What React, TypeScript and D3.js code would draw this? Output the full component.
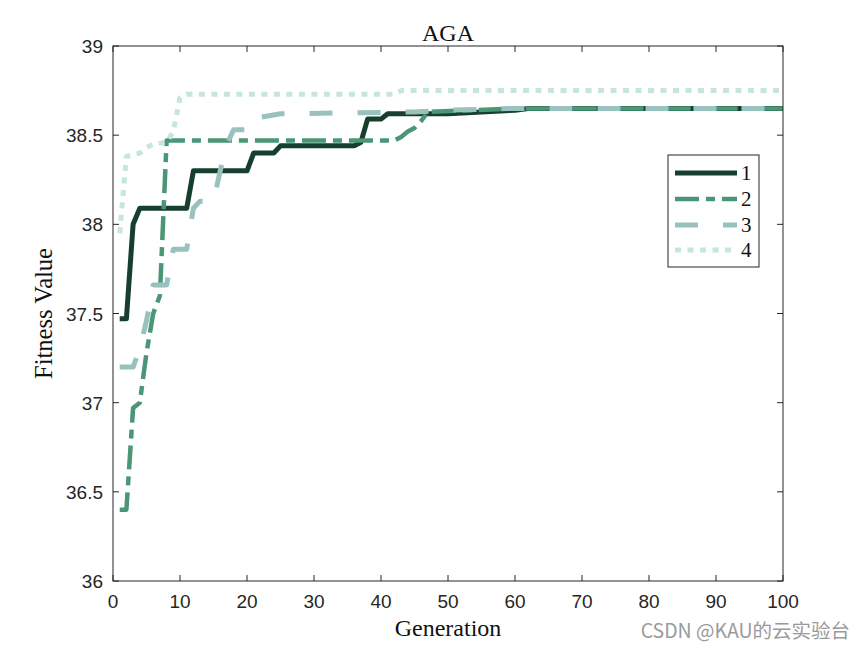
import React from "react";
import * as d3 from "d3";

const W = 865, H = 649;
const M = { left: 113, right: 783, top: 46, bottom: 581 };

const xTicks = [0, 10, 20, 30, 40, 50, 60, 70, 80, 90, 100];
const yTicks = [36, 36.5, 37, 37.5, 38, 38.5, 39];
const yTickLabels = ["36", "36.5", "37", "37.5", "38", "38.5", "39"];

const seriesNames = ["1", "2", "3", "4"];

const gen1 = [1, 2, 3, 4, 11, 12, 20, 21, 24, 25, 36, 37, 38, 40, 41, 50, 55, 60, 62, 100];
const val1 = [37.47, 37.47, 38.0, 38.09, 38.09, 38.3, 38.3, 38.4, 38.4, 38.44, 38.44, 38.46, 38.59, 38.59, 38.62, 38.62, 38.63, 38.64, 38.65, 38.65];

const gen2 = [1, 2, 3, 4, 5, 6, 7, 8, 42, 43, 44, 45, 46, 47, 60, 100];
const val2 = [36.4, 36.4, 36.97, 37.0, 37.28, 37.5, 37.6, 38.47, 38.47, 38.49, 38.52, 38.54, 38.58, 38.63, 38.65, 38.65];

const gen3 = [1, 3, 4, 5, 6, 8, 9, 11, 12, 13, 15, 16, 17, 18, 21, 22, 25, 45, 50, 60, 100];
const val3 = [37.2, 37.2, 37.3, 37.46, 37.66, 37.66, 37.86, 37.86, 38.09, 38.13, 38.13, 38.3, 38.45, 38.53, 38.53, 38.6, 38.62, 38.63, 38.64, 38.65, 38.65];

const gen4 = [1, 2, 4, 5, 6, 8, 9, 10, 11, 42, 43, 100];
const val4 = [37.95, 38.38, 38.4, 38.43, 38.45, 38.46, 38.52, 38.71, 38.73, 38.73, 38.75, 38.75];

const gens = [gen1, gen2, gen3, gen4];
const vals = [val1, val2, val3, val4];

const colors = ["#173f2e", "#4a9677", "#99c2bf", "#c6e6db"];
const dashes = ["", "24,7,9,7", "23,25", "6,6.5"];
const widths = [5, 4.5, 5, 5];

export default function App() {
  const x = d3.scaleLinear().domain([0, 100]).range([M.left, M.right]);
  const y = d3.scaleLinear().domain([36, 39]).range([M.bottom, M.top]);
  const line = d3
    .line<[number, number]>()
    .x((d) => x(d[0]))
    .y((d) => y(d[1]))
    .curve(d3.curveLinear);

  const axisColor = "#262626";
  const tickLen = 6;
  const sans = "'Liberation Sans', Arial, sans-serif";
  const serif = "'Liberation Serif', 'Times New Roman', serif";

  const legX = 668, legY = 155, legW = 91, legH = 112;
  const rowY = [173, 199, 225, 250];

  return (
    <svg
      width={W}
      height={H}
      style={{ position: "absolute", left: 0, top: 0, background: "#fff" }}
    >
      <rect x={0} y={0} width={W} height={H} fill="#fff" />
      {gens.map((g, i) => (
        <path
          key={i}
          d={line(g.map((gv, j) => [gv, vals[i][j]] as [number, number])) || ""}
          fill="none"
          stroke={colors[i]}
          strokeWidth={widths[i]}
          strokeDasharray={dashes[i] || undefined}
          strokeLinejoin="round"
        />
      ))}
      <rect
        x={M.left}
        y={M.top}
        width={M.right - M.left}
        height={M.bottom - M.top}
        fill="none"
        stroke={axisColor}
        strokeWidth={1}
      />
      {xTicks.map((t) => (
        <g key={"x" + t}>
          <line x1={x(t)} x2={x(t)} y1={M.bottom} y2={M.bottom - tickLen} stroke={axisColor} />
          <line x1={x(t)} x2={x(t)} y1={M.top} y2={M.top + tickLen} stroke={axisColor} />
          <text
            x={x(t)}
            y={M.bottom + 27}
            textAnchor="middle"
            fontFamily={sans}
            fontSize={19}
            fill={axisColor}
          >
            {t}
          </text>
        </g>
      ))}
      {yTicks.map((t, i) => (
        <g key={"y" + t}>
          <line x1={M.left} x2={M.left + tickLen} y1={y(t)} y2={y(t)} stroke={axisColor} />
          <line x1={M.right} x2={M.right - tickLen} y1={y(t)} y2={y(t)} stroke={axisColor} />
          <text
            x={M.left - 10}
            y={y(t) + 7}
            textAnchor="end"
            fontFamily={sans}
            fontSize={19}
            fill={axisColor}
          >
            {yTickLabels[i]}
          </text>
        </g>
      ))}
      <text x={(M.left + M.right) / 2} y={41} textAnchor="middle" fontFamily={serif} fontSize={24} fill="#111">
        AGA
      </text>
      <text x={(M.left + M.right) / 2} y={636} textAnchor="middle" fontFamily={serif} fontSize={24} fill="#111">
        Generation
      </text>
      <text
        transform={`translate(52, ${(M.top + M.bottom) / 2}) rotate(-90)`}
        textAnchor="middle"
        fontFamily={serif}
        fontSize={24.5}
        fill="#111"
      >
        Fitness Value
      </text>
      <rect x={legX} y={legY} width={legW} height={legH} fill="#fff" stroke={axisColor} strokeWidth={1} />
      {seriesNames.map((s, i) => (
        <g key={"l" + s}>
          <line
            x1={675}
            x2={737}
            y1={rowY[i]}
            y2={rowY[i]}
            stroke={colors[i]}
            strokeWidth={widths[i]}
            strokeDasharray={dashes[i] || undefined}
          />
          <text x={741} y={rowY[i] + 7} fontFamily={serif} fontSize={21} fill="#111">
            {s}
          </text>
        </g>
      ))}
      <text x={850} y={638} textAnchor="end" fontFamily={"'Noto Sans CJK SC', 'Noto Sans', sans-serif"} fontSize={19.5} fill="#9a9a9a">
        CSDN @KAU的云实验台
      </text>
    </svg>
  );
}
